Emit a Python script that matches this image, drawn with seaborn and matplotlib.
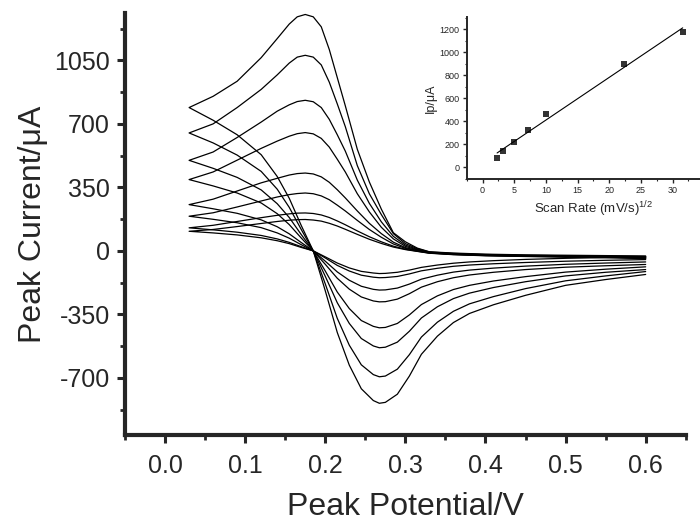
import matplotlib as mpl
mpl.use('Agg')
import matplotlib.pyplot as plt
from matplotlib.ticker import MultipleLocator, FormatStrFormatter
import pandas as pd
import seaborn as sns

# potentials (V) for the forward (anodic) and reverse (cathodic) branches
E_up = [0.03, 0.06, 0.09, 0.12, 0.14, 0.155, 0.165, 0.175, 0.185, 0.195, 0.205, 0.215, 0.225,
        0.24, 0.255, 0.27, 0.285, 0.30, 0.315, 0.33, 0.36, 0.40, 0.45, 0.50, 0.55, 0.60]
E_down = [0.03, 0.06, 0.09, 0.12, 0.14, 0.155, 0.17, 0.185, 0.20, 0.215, 0.23, 0.245, 0.26,
          0.2675, 0.275, 0.29, 0.305, 0.32, 0.34, 0.36, 0.38, 0.41, 0.45, 0.50, 0.55, 0.60]

# currents (uA), one row per scan rate, largest first
I_up = [
    [790, 852, 935, 1065, 1170, 1250, 1290, 1303, 1290, 1235, 1110, 955, 800,
     560, 380, 230, 100, 50, 15, -5, -12, -18, -22, -24, -26, -28],
    [650, 700, 790, 890, 970, 1035, 1068, 1078, 1068, 1025, 930, 810, 685,
     470, 315, 200, 95, 40, 12, -6, -14, -20, -24, -27, -29, -31],
    [499, 545, 625, 710, 770, 805, 823, 830, 822, 790, 725, 640, 550,
     390, 262, 160, 80, 32, 8, -8, -16, -22, -26, -29, -31, -33],
    [393, 435, 500, 565, 605, 632, 646, 652, 645, 620, 572, 505, 435,
     315, 215, 130, 66, 25, 5, -9, -17, -23, -27, -30, -33, -35],
    [255, 285, 330, 375, 400, 418, 426, 429, 424, 408, 378, 337, 292,
     220, 152, 95, 48, 18, 2, -10, -18, -24, -28, -31, -34, -37],
    [191, 210, 242, 275, 297, 310, 316, 319, 315, 303, 282, 252, 220,
     168, 118, 75, 38, 14, 0, -11, -19, -25, -29, -32, -35, -39],
    [127, 141, 162, 183, 196, 204, 208, 209, 206, 198, 184, 165, 144,
     110, 78, 50, 26, 9, -2, -12, -20, -26, -30, -33, -36, -41],
    [108, 118, 134, 151, 162, 169, 172, 173, 170, 164, 152, 137, 119,
     91, 64, 41, 21, 7, -3, -13, -21, -27, -31, -34, -37, -43],
]
I_down = [
    [790, 720, 640, 530, 410, 290, 140, 0, -220, -450, -630, -760, -825,
     -840, -835, -790, -690, -570, -470, -395, -345, -297, -245, -190, -158, -130],
    [650, 595, 528, 438, 340, 240, 118, 0, -182, -372, -520, -628, -682,
     -694, -690, -652, -572, -475, -393, -333, -292, -252, -208, -165, -138, -114],
    [499, 455, 405, 336, 260, 184, 90, 0, -140, -286, -400, -483, -524,
     -534, -531, -503, -443, -370, -308, -263, -233, -202, -170, -138, -118, -103],
    [393, 358, 319, 264, 205, 145, 71, 0, -111, -227, -318, -384, -416,
     -424, -422, -400, -353, -296, -248, -213, -190, -166, -142, -117, -101, -88],
    [255, 232, 207, 171, 133, 94, 46, 0, -74, -151, -211, -254, -276,
     -281, -280, -266, -236, -200, -170, -148, -133, -118, -103, -90, -82, -75],
    [191, 174, 155, 128, 99, 70, 34, 0, -57, -116, -162, -195, -212,
     -216, -215, -205, -183, -156, -134, -117, -106, -95, -84, -74, -67, -61],
    [127, 116, 103, 85, 66, 47, 23, 0, -39, -80, -111, -134, -145,
     -148, -147, -141, -127, -110, -96, -85, -78, -71, -64, -57, -52, -48],
    [108, 99, 88, 72, 56, 40, 19, 0, -33, -67, -94, -113, -122,
     -125, -124, -118, -106, -91, -78, -68, -61, -54, -47, -41, -37, -33],
]

# inset: peak current vs square root of scan rate
sqrt_rate = [2.3, 3.2, 5.0, 7.1, 10.0, 22.3, 31.6]
peak_ip = [80, 140, 225, 325, 465, 900, 1175]

sns.set_style('ticks')
plt.rcParams['font.family'] = ['Liberation Sans', 'DejaVu Sans']
plt.rcParams['mathtext.fontset'] = 'custom'
plt.rcParams['mathtext.rm'] = 'Liberation Sans'
plt.rcParams['axes.unicode_minus'] = False

rows = []
for k in range(len(I_up)):
    path = list(zip(E_up[::-1], I_up[k][::-1])) + list(zip(E_down, I_down[k]))
    for e, i in path:
        rows.append({'E': e, 'I': i, 'scan': k})
cv = pd.DataFrame(rows)

fig = plt.figure(figsize=(7, 5.24), dpi=100)
ax = fig.add_axes([0.1786, 0.1698, 0.801, 0.805])
sns.lineplot(data=cv, x='E', y='I', units='scan', estimator=None, sort=False,
             color='black', lw=0.9, ax=ax)

ax.set_xlim(-0.05, 0.65)
ax.set_ylim(-1015, 1310)
ax.xaxis.set_major_locator(MultipleLocator(0.1))
ax.xaxis.set_minor_locator(MultipleLocator(0.05))
ax.xaxis.set_major_formatter(FormatStrFormatter('%.1f'))
ax.set_yticks([-700, -350, 0, 350, 700, 1050])
ax.yaxis.set_minor_locator(MultipleLocator(175))
for side in ['top', 'right']:
    ax.spines[side].set_visible(False)
for side in ['left', 'bottom']:
    ax.spines[side].set_linewidth(3)
ax.tick_params(which='major', direction='out', length=6, width=2.2, labelsize=18, pad=5)
ax.tick_params(which='minor', direction='out', length=3.5, width=2)
ax.tick_params(axis='x', which='major', pad=8)
ax.set_xlabel('Peak Potential/V', fontsize=23, labelpad=10)
ax.set_ylabel('Peak Current/\u03bcA', fontsize=23, labelpad=4)

ins = fig.add_axes([0.6667, 0.6584, 0.362, 0.3097])
sns.regplot(x=sqrt_rate, y=peak_ip, ax=ins, ci=None, marker='s', color='black',
            scatter_kws={'s': 14, 'linewidths': 0}, line_kws={'lw': 0.8})
ins.set_xlim(-2.5, 37.5)
ins.set_ylim(-100, 1310)
ins.xaxis.set_major_locator(MultipleLocator(5))
ins.xaxis.set_minor_locator(MultipleLocator(2.5))
ins.yaxis.set_major_locator(MultipleLocator(200))
ins.yaxis.set_minor_locator(MultipleLocator(100))
for side in ['top', 'right']:
    ins.spines[side].set_visible(False)
for side in ['left', 'bottom']:
    ins.spines[side].set_linewidth(1.4)
ins.tick_params(which='major', direction='out', length=3, width=1, labelsize=6.5, pad=2)
ins.tick_params(which='minor', direction='out', length=1.5, width=0.8)
ins.set_xlabel('Scan Rate (mV/s)$^{1/2}$', fontsize=9.5, labelpad=3)
ins.set_ylabel('Ip/\u03bcA', fontsize=9, labelpad=2)

fig.savefig('out.png', dpi=100, facecolor='white')
